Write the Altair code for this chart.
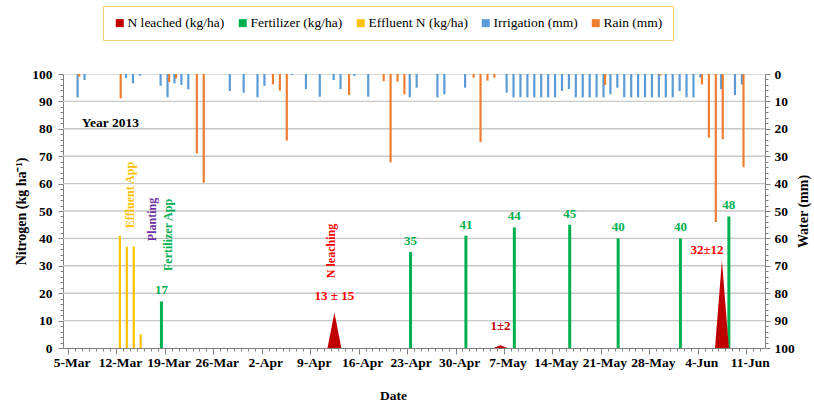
import altair as alt
import pandas as pd
from datetime import date, timedelta

# ---------------- data ----------------
SERIES = ["N leached (kg/ha)", "Fertilizer (kg/ha)", "Effluent N (kg/ha)", "Irrigation (mm)", "Rain (mm)"]
COLORS = ["#C00000", "#00B050", "#FFC000", "#5B9BD5", "#ED7D31"]

effluent_dates = ["2013-03-12", "2013-03-13", "2013-03-14", "2013-03-15"]
effluent_n = [41, 37, 37, 5]

fert_dates = ["2013-03-18", "2013-04-23", "2013-05-01", "2013-05-08",
              "2013-05-16", "2013-05-23", "2013-06-01", "2013-06-08"]
fert_n = [17, 35, 41, 44, 45, 40, 40, 48]

leach_dates = ["2013-04-11", "2013-04-12", "2013-04-13",
               "2013-05-05", "2013-05-06", "2013-05-07",
               "2013-06-06", "2013-06-07", "2013-06-08"]
leach_n = [0, 13, 0, 0, 1, 0, 0, 32, 0]

leach_label_dates = ["2013-04-12", "2013-05-06", "2013-06-07"]
leach_label_n = [13, 1, 32]
leach_label_text = ["13 ± 15", "1±2", "32±12"]

irr_dates = ["2013-03-06", "2013-03-07", "2013-03-13", "2013-03-14", "2013-03-15",
             "2013-03-18", "2013-03-19", "2013-03-20", "2013-03-21", "2013-03-22",
             "2013-03-28", "2013-03-30", "2013-04-01", "2013-04-02", "2013-04-06",
             "2013-04-08", "2013-04-10", "2013-04-12", "2013-04-13", "2013-04-15",
             "2013-04-17", "2013-04-23", "2013-04-24", "2013-04-27", "2013-04-28",
             "2013-05-01", "2013-05-07", "2013-05-08", "2013-05-09", "2013-05-10",
             "2013-05-11", "2013-05-12", "2013-05-13", "2013-05-14", "2013-05-15",
             "2013-05-16", "2013-05-17", "2013-05-18", "2013-05-19", "2013-05-20",
             "2013-05-21", "2013-05-22", "2013-05-23", "2013-05-24", "2013-05-25",
             "2013-05-26", "2013-05-27", "2013-05-28", "2013-05-29", "2013-05-30",
             "2013-05-31", "2013-06-01", "2013-06-02", "2013-06-03", "2013-06-04",
             "2013-06-07", "2013-06-09", "2013-06-10"]
irr_mm = [8.5, 2.2, 1.5, 3.4, 0.6,
          4.3, 8.5, 3.4, 4.0, 5.6,
          6.2, 6.8, 8.5, 4.3, 0.4,
          5.5, 8.3, 2.2, 5.5, 0.7,
          8.3, 8.5, 5.0, 8.5, 7.4,
          5.0, 6.8, 8.5, 8.5, 8.5,
          8.5, 8.5, 8.5, 8.5, 6.2,
          5.5, 8.5, 8.5, 8.5, 8.5,
          8.5, 7.4, 5.0, 8.5, 8.5,
          8.5, 8.5, 8.5, 8.5, 8.5,
          8.5, 6.2, 8.5, 8.5, 1.3,
          5.5, 7.7, 3.8]

rain_dates = ["2013-03-06", "2013-03-12", "2013-03-19", "2013-03-20", "2013-03-23",
              "2013-03-24", "2013-04-03", "2013-04-04", "2013-04-05", "2013-04-14",
              "2013-04-19", "2013-04-20", "2013-04-21", "2013-04-22", "2013-05-02",
              "2013-05-03", "2013-05-04", "2013-05-05", "2013-05-21", "2013-05-29",
              "2013-06-04", "2013-06-05", "2013-06-06", "2013-06-07", "2013-06-10"]
rain_mm = [1.0, 8.9, 3.0, 1.6, 29.0,
           39.7, 3.8, 6.1, 24.3, 7.7,
           2.6, 32.2, 2.8, 7.4, 1.3,
           24.9, 2.4, 1.3, 4.0, 0.5,
           3.8, 23.2, 54.0, 23.8, 34.0]

annot_text = ["Effluent App", "Planting", "Fertilizer App", "N leaching"]
annot_when = ["2013-03-14T00:00:00Z", "2013-03-17T04:00:00Z",
              "2013-03-19T12:00:00Z", "2013-04-12T00:00:00Z"]
annot_n = [43.7, 39.0, 28.1, 25.5]

grid_levels = [10, 20, 30, 40, 50, 60, 70, 80, 90]

# ---------------- styles ----------------
FONT = "Liberation Serif"
W, H = 702, 274
AXIS_GREY = "#808080"
GRID_GREY = "#C8C8C8"
GRID_HALF = 0.25         # half thickness of a grid line, in axis units (~1.4 px)
ANNOT_COLORS = ["#FFC000", "#7030A0", "#00B050", "#FF0000"]
LEACH_LABEL_STYLE = [dict(dx=0, dy=-16, color="#FF0000"),
                     dict(dx=0, dy=-19, color="#C00000"),
                     dict(dx=-15, dy=-10, color="#FF0000")]

xscale = alt.Scale(type="utc", domain=[alt.DateTime(year=2013, month=3, date=5, utc=True),
                                       alt.DateTime(year=2013, month=6, date=13, utc=True)])
nscale = alt.Scale(domain=[0, 100], nice=False)
wscale = alt.Scale(domain=[0, 100], reverse=True, nice=False)
cscale = alt.Scale(domain=SERIES, range=COLORS)

# daily tick positions (axis decoration: weekly labelled, daily minor)
day_ticks = []
for i in range(101):
    d = date(2013, 3, 5) + timedelta(days=i)
    day_ticks.append(alt.DateTime(year=d.year, month=d.month, date=d.day, utc=True))

WEEK = "round((datum.value - utc(2013, 2, 5)) / 86400000) % 7 === 0"
MAJ = "datum.value % 10 === 0"

x_axis = alt.Axis(values=day_ticks,
                  labelExpr=f"({WEEK}) ? utcFormat(datum.value, '%-d-%b') : ''",
                  labelOverlap=False, labelFlush=False,
                  labelFont=FONT, labelFontSize=13.5, labelFontWeight="bold", labelColor="black",
                  labelOffset=3.5, labelPadding=1,
                  tickSize={"condition": {"test": WEEK, "value": 6}, "value": 3},
                  tickColor=AXIS_GREY, domainColor=AXIS_GREY, grid=False,
                  title="Date", titleFont=FONT, titleFontSize=13.5, titleFontWeight="bold",
                  titleColor="black", titleX=330, titleY=47, titleBaseline="middle")

n_axis = alt.Axis(orient="left", values=list(range(0, 101, 2)),
                  labelExpr=f"({MAJ}) ? datum.label : ''", labelOverlap=False,
                  labelFont=FONT, labelFontSize=13.5, labelFontWeight="bold", labelColor="black",
                  labelPadding=6,
                  tickSize={"condition": {"test": MAJ, "value": 5}, "value": 3},
                  tickColor=AXIS_GREY, domainColor=AXIS_GREY, grid=False,
                  title="Nitrogen (kg ha⁻¹)", titleFont=FONT, titleFontSize=14,
                  titleFontWeight="bold", titleColor="black",
                  titleX=-42, titleY=137, titleBaseline="middle", titleAlign="center")

w_axis = alt.Axis(orient="right", values=list(range(0, 101, 2)),
                  labelExpr=f"({MAJ}) ? datum.label : ''", labelOverlap=False,
                  labelFont=FONT, labelFontSize=13.5, labelFontWeight="bold", labelColor="black",
                  labelPadding=4,
                  tickSize={"condition": {"test": MAJ, "value": 5}, "value": 3},
                  tickColor=AXIS_GREY, domainColor=AXIS_GREY, grid=False,
                  title="Water (mm)", titleFont=FONT, titleFontSize=14, titleFontWeight="bold",
                  titleColor="black", titleAngle=270,
                  titleX=38, titleY=137, titleBaseline="middle", titleAlign="center")

LEGEND = alt.Legend(orient="none", legendX=40, legendY=-68, direction="horizontal", columns=5,
                    title=None, symbolType="square", symbolSize=64, symbolStrokeWidth=0,
                    labelFont=FONT, labelFontSize=13.5, labelColor="black", labelOffset=1,
                    columnPadding=11, padding=10, strokeColor="#F2D06B", fillColor="white")

color_enc = alt.Color("series:N", scale=cscale, legend=LEGEND)
NOON = "toDate(datum.date + 'T12:00:00Z')"

X = alt.X("t:T", scale=xscale, axis=x_axis, title="Date")
YN = alt.Y("v:Q", scale=nscale, axis=n_axis, title="Nitrogen (kg ha⁻¹)")
YW = alt.Y("v:Q", scale=wscale, axis=w_axis, title="Water (mm)")

# ---------------- frames ----------------
irr_df = pd.DataFrame({"date": irr_dates, "v": irr_mm, "series": "Irrigation (mm)"})
rain_df = pd.DataFrame({"date": rain_dates, "v": rain_mm, "series": "Rain (mm)"})
eff_df = pd.DataFrame({"date": effluent_dates, "v": effluent_n, "series": "Effluent N (kg/ha)"})
fert_df = pd.DataFrame({"date": fert_dates, "v": fert_n, "series": "Fertilizer (kg/ha)"})
leach_df = pd.DataFrame({"date": leach_dates, "v": leach_n, "series": "N leached (kg/ha)"})
leach_lab_df = pd.DataFrame({"date": leach_label_dates, "v": leach_label_n, "label": leach_label_text})
annot_df = pd.DataFrame({"when": annot_when, "v": annot_n, "label": annot_text})
year_df = pd.DataFrame({"when": ["2013-03-07T00:00:00Z"], "v": [82], "label": ["Year 2013"]})
grid_df = pd.DataFrame({"level": grid_levels})

# ---------------- nitrogen (left axis) ----------------
grid = (
    alt.Chart(grid_df)
    .transform_calculate(v=f"datum.level - {GRID_HALF}", v2=f"datum.level + {GRID_HALF}")
    .mark_rect(color=GRID_GREY)
    .encode(x=alt.value(0), x2=alt.value(W), y=YN, y2="v2:Q")
)

eff = alt.Chart(eff_df).transform_calculate(t=NOON).mark_bar(size=2.2).encode(
    x=X, y=YN, y2=alt.datum(0), color=color_enc,
)
fert = alt.Chart(fert_df).transform_calculate(t=NOON).mark_bar(size=3).encode(
    x=X, y=YN, y2=alt.datum(0), color=color_enc,
)
leach = alt.Chart(leach_df).transform_calculate(t=NOON).mark_area(interpolate="linear").encode(
    x=X, y=alt.Y("v:Q", scale=nscale, axis=n_axis, title="Nitrogen (kg ha⁻¹)", stack=None),
    color=color_enc,
)
fert_lab = alt.Chart(fert_df).transform_calculate(t=NOON).mark_text(
    font=FONT, fontSize=13, fontWeight="bold", color="#00B050", dy=-11, baseline="middle"
).encode(x=X, y=YN, text="v:Q")

layers = [grid, eff, fert, leach, fert_lab]

for lab, st in zip(leach_label_text, LEACH_LABEL_STYLE):
    layers.append(
        alt.Chart(leach_lab_df).transform_filter(alt.datum.label == lab)
        .transform_calculate(t=NOON)
        .mark_text(font=FONT, fontSize=13, fontWeight="bold", baseline="middle",
                   color=st["color"], dx=st["dx"], dy=st["dy"])
        .encode(x=X, y=YN, text="label:N")
    )

for lab, col in zip(annot_text, ANNOT_COLORS):
    layers.append(
        alt.Chart(annot_df).transform_filter(alt.datum.label == lab)
        .transform_calculate(t="toDate(datum.when)")
        .mark_text(font=FONT, fontSize=12, fontWeight="bold", angle=270, align="left",
                   baseline="middle", color=col)
        .encode(x=X, y=YN, text="label:N")
    )

layers.append(
    alt.Chart(year_df).transform_calculate(t="toDate(datum.when)")
    .mark_text(font=FONT, fontSize=13.5, fontWeight="bold", align="left", baseline="middle", color="black")
    .encode(x=X, y=YN, text="label:N")
)

nitrogen = alt.layer(*layers)

# ---------------- water (right axis, hanging from top) ----------------
irr = alt.Chart(irr_df).transform_calculate(t=NOON).mark_bar(size=2.2, xOffset=-0.8).encode(
    x=X, y=YW, y2=alt.datum(0), color=color_enc,
)
rain = alt.Chart(rain_df).transform_calculate(t=NOON).mark_bar(size=2.2, xOffset=0.8).encode(
    x=X, y=YW, y2=alt.datum(0), color=color_enc,
)
water = alt.layer(irr, rain)

chart = (
    alt.layer(nitrogen, water)
    .resolve_scale(y="independent")
    .properties(width=W, height=H,
                autosize=alt.AutoSizeParams(type="none"),
                padding={"left": 63, "top": 74, "right": 49, "bottom": 56})
    .configure_view(stroke=AXIS_GREY, strokeWidth=1)
    .configure_legend(labelFont=FONT, labelFontSize=13.5, labelColor="black")
    .configure(background="white")
)

chart.save("out.html", embed_options={"renderer": "svg", "actions": False})
